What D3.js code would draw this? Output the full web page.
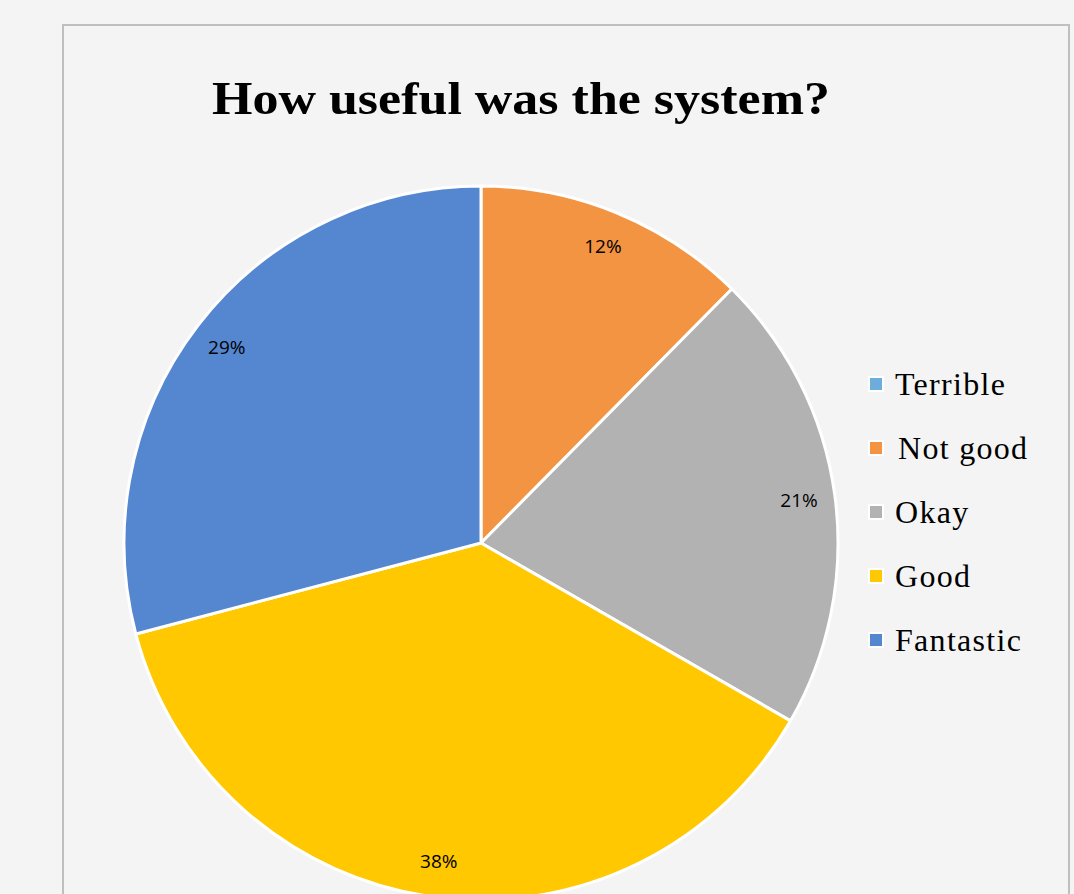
<!DOCTYPE html>
<html>
<head>
<meta charset="utf-8">
<script src="https://cdn.jsdelivr.net/npm/d3@7"></script>
<style>
  html, body { margin: 0; padding: 0; background: #f4f4f4; }
  svg { display: block; }
</style>
</head>
<body>
<svg id="chart" width="1074" height="894"></svg>
<script>
const title = "How useful was the system?";
const categories = ["Terrible", "Not good", "Okay", "Good", "Fantastic"];
const values = [0, 12.4, 20.9, 37.6, 29.1];
const colors = ["#6DADDE", "#F29441", "#B2B2B2", "#FFC800", "#5587D1"];

const svg = d3.select("#chart");
const W = 1074, H = 894;

svg.append("rect").attr("x", 0).attr("y", 0).attr("width", W).attr("height", H).attr("fill", "#f4f4f4");
// chart area border
svg.append("rect")
  .attr("x", 63).attr("y", 25).attr("width", 1006).attr("height", 900)
  .attr("fill", "#f4f4f4").attr("stroke", "#bfbfbf").attr("stroke-width", 2);

svg.append("text")
  .attr("x", 521).attr("y", 114)
  .attr("text-anchor", "middle")
  .attr("font-family", "'Liberation Serif', serif")
  .attr("font-weight", "bold")
  .attr("font-size", 47)
  .attr("textLength", 618)
  .attr("lengthAdjust", "spacingAndGlyphs")
  .attr("fill", "#000")
  .text(title);

const cx = 481, cy = 543, R = 357;
const total = d3.sum(values);
const color = d3.scaleOrdinal().domain(categories).range(colors);
const pie = d3.pie().sort(null).value(d => d.v);
const data = categories.map((c, i) => ({ c, v: values[i] }));
const arcs = pie(data);
const arc = d3.arc().innerRadius(0).outerRadius(R);
const labelArc = d3.arc().innerRadius(321).outerRadius(321);

const g = svg.append("g").attr("transform", `translate(${cx},${cy})`);
g.selectAll("path.slice").data(arcs).enter().append("path")
  .attr("class", "slice")
  .attr("d", arc)
  .attr("fill", d => color(d.data.c))
  .attr("stroke", "#ffffff")
  .attr("stroke-width", 3)
  .attr("stroke-linejoin", "round");

const fmt = d3.format(".0%");
g.selectAll("text.lbl").data(arcs.filter(d => d.data.v > 0)).enter().append("text")
  .attr("class", "lbl")
  .attr("transform", d => `translate(${labelArc.centroid(d)})`)
  .attr("text-anchor", "middle")
  .attr("dominant-baseline", "central")
  .attr("font-family", "'Open Sans', sans-serif")
  .attr("font-size", 19)
  .attr("fill", "#000")
  .text(d => fmt(d.data.v / total));

// legend
const ly = d3.scalePoint().domain(categories).range([384, 640]);
const lg = svg.append("g");
const items = lg.selectAll("g.item").data(categories).enter().append("g")
  .attr("class", "item")
  .attr("transform", c => `translate(0,${ly(c)})`);
items.append("rect")
  .attr("x", 869).attr("y", -7).attr("width", 14).attr("height", 14)
  .attr("fill", c => color(c))
  .attr("stroke", "#ffffff").attr("stroke-width", 2);
items.append("text")
  .attr("x", c => c === "Not good" ? 898 : 895)
  .attr("y", 0)
  .attr("dominant-baseline", "central")
  .attr("font-family", "'Liberation Serif', serif")
  .attr("font-size", 32)
  .attr("letter-spacing", 1.3)
  .attr("fill", "#000")
  .text(c => c);
</script>
</body>
</html>
